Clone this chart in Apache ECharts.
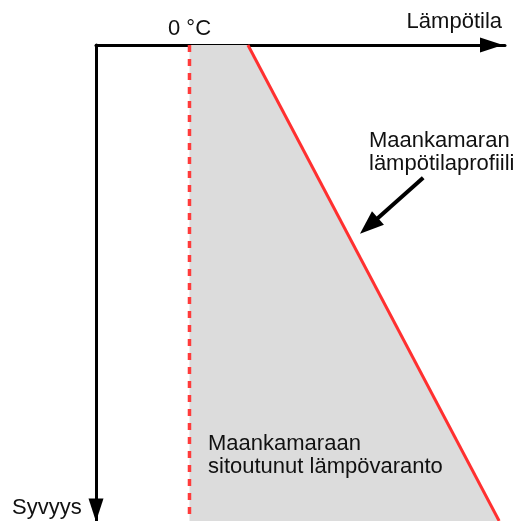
<!DOCTYPE html>
<html><head><meta charset="utf-8">
<script src="https://cdn.jsdelivr.net/npm/echarts@6/dist/echarts.min.js"></script>
<style>html,body{margin:0;padding:0;background:#fff}#c{width:518px;height:521px}</style>
</head><body><div id="c"></div>
<script>
// Schematic data: temperature (x, °C units) vs depth (y, arbitrary units)
const freezingLine = [[0, 0], [0, 10]];          // 0 °C reference
const profileLine = [[5, 0], [26.5, 10]];        // ground temperature profile
const storedHeat = [[0, 0], [5, 0], [26.5, 10], [0, 10]]; // stored heat area
const pointerArrow = [[20.0, 2.79], [15.36, 3.8]];
const labels = {
  zero: '0 °C',
  temp: 'Lämpötila',
  depth: 'Syvyys',
  profile: 'Maankamaran\nlämpötilaprofiili',
  heat: 'Maankamaraan\nsitoutunut lämpövaranto'
};
const FONT = 'Liberation Sans, Arial, sans-serif';
const chart = echarts.init(document.getElementById('c'));
chart.setOption({
  animation: false,
  grid: { left: 96, top: 45, width: 409, height: 476 },
  xAxis: {
    type: 'value', min: -8, max: 27, position: 'top',
    axisLine: { onZero: false, lineStyle: { color: '#000', width: 3 },
      symbol: ['none', 'triangle'], symbolSize: [15, 23], symbolOffset: [0, -13.5] },
    axisTick: { show: false }, axisLabel: { show: false }, splitLine: { show: false }
  },
  yAxis: {
    type: 'value', min: 0, max: 10, inverse: true,
    axisLine: { onZero: false, lineStyle: { color: '#000', width: 3 },
      symbol: ['triangle', 'none'], symbolSize: [15, 23], symbolOffset: [11, 0] },
    axisTick: { show: false }, axisLabel: { show: false }, splitLine: { show: false }
  },
  series: [
    {
      type: 'custom', data: [0], silent: true, z: 1,
      renderItem: function (params, api) {
        return { type: 'polygon', shape: { points: storedHeat.map(p => api.coord(p)) },
          style: { fill: '#dcdcdc' } };
      }
    },
    { type: 'line', data: freezingLine, symbol: 'none', z: 3,
      lineStyle: { color: '#ff3b3b', width: 3.5, type: [7, 7] } },
    { type: 'line', data: profileLine, symbol: 'none', z: 3,
      lineStyle: { color: '#ff3030', width: 3 } },
    { type: 'line', data: [], symbol: 'none',
      markLine: { silent: true, symbol: ['none', 'triangle'], symbolSize: [18, 24],
        label: { show: false }, lineStyle: { color: '#000', width: 4, type: 'solid' },
        data: [[{ coord: pointerArrow[0] }, { coord: pointerArrow[1] }]] } }
  ],
  graphic: [
    { type: 'text', x: 168, y: 29, style: { text: labels.zero, font: '22px ' + FONT, fill: '#111', textVerticalAlign: 'middle' } },
    { type: 'text', x: 502, y: 22, style: { text: labels.temp, font: '22px ' + FONT, fill: '#111', textAlign: 'right', textVerticalAlign: 'middle' } },
    { type: 'text', x: 12, y: 508, style: { text: labels.depth, font: '22px ' + FONT, fill: '#111', textVerticalAlign: 'middle' } },
    { type: 'text', x: 369, y: 129.8, style: { text: labels.profile, font: '22px ' + FONT, lineHeight: 23, fill: '#111', textVerticalAlign: 'top' } },
    { type: 'text', x: 208, y: 432.8, z: 10, style: { text: labels.heat, font: '22px ' + FONT, lineHeight: 23, fill: '#111', textVerticalAlign: 'top' } }
  ]
});
</script></body></html>
